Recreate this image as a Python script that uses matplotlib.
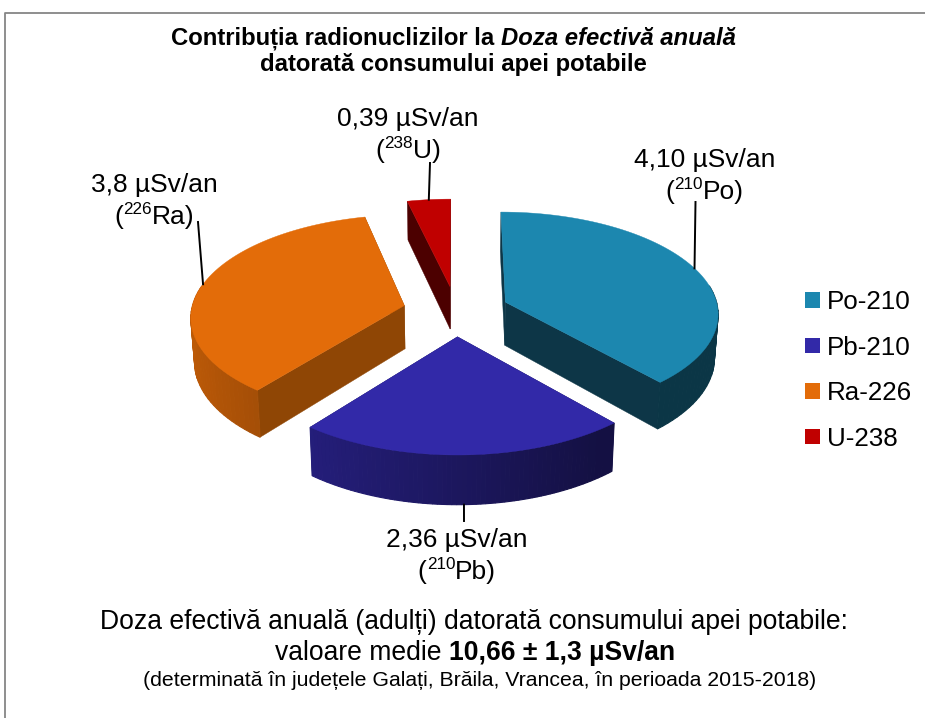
import numpy as np
import matplotlib
matplotlib.use("Agg")
import matplotlib.pyplot as plt
from matplotlib.patches import Patch, Polygon

plt.rcParams['font.family'] = ['Liberation Sans', 'DejaVu Sans']

nuclides = ['Po-210', 'Pb-210', 'Ra-226', 'U-238']
doses = [4.10, 2.36, 3.8, 0.39]
dose_labels = ['4,10 µSv/an', '2,36 µSv/an', '3,8 µSv/an', '0,39 µSv/an']
isotope_mass = ['210', '210', '226', '238']
isotope_sym = ['Po', 'Pb', 'Ra', 'U']

top_colors = ['#1C87AF', '#3229A8', '#E36C09', '#C00000']
cut_colors = ['#0D3647', '#1C1660', '#8F4605', '#4C0000']
label_pos = [(704.5, 167), (457, 547), (154, 192), (408, 126)]
leader_end = [(695.5, 202), (464, 521), (198, 222), (430, 163)]

# pie geometry, all in pixels
cx, cy = 456, 311
R, kR = 213, 100.8
persp = 0.1
explode = 0.25
depth = 43.5


def project(x, y, bottom=False):
    s = 1 / (1 + persp * y)
    px = R * x * s
    py = -kR * y * s
    if bottom:
        return cx + px * 0.986, cy + py + depth * s
    return cx + px, cy + py


def shade(col, f):
    return tuple(c * f for c in matplotlib.colors.to_rgb(col))


def runs(ax, x, y, parts, size):
    # writes pieces of one line next to each other: (text, weight, style, scale, rise)
    rend = ax.figure.canvas.get_renderer()
    items = []
    total = 0
    for text, weight, style, scale, rise in parts:
        t = ax.text(x, y - rise, text, fontsize=size * scale, fontweight=weight, fontstyle=style,
                    ha='left', va='baseline')
        w = t.get_window_extent(rend).width
        items.append((t, w))
        total += w
    pos = x - total / 2
    for t, w in items:
        t.set_x(pos)
        pos += w


fig = plt.figure(figsize=(9.25, 7.18), dpi=100)
ax = fig.add_axes([0, 0, 1, 1])
ax.set_xlim(0, 925)
ax.set_ylim(718, 0)
ax.axis('off')
fig.canvas.draw()

# frame of the chart, open at right and bottom
ax.plot([4.5, 4.5, 925], [718, 12.5, 12.5], color='#868686', lw=1.3, solid_capstyle='butt')

total = sum(doses)
start = 0.0
for i, val in enumerate(doses):
    sweep = val / total * 2 * np.pi
    mid = start + sweep / 2
    ox, oy = explode * np.sin(mid), explode * np.cos(mid)
    th = np.linspace(start, start + sweep, 70)
    xs = ox + np.sin(th)
    ys = oy + np.cos(th)

    top = [project(x, y) for x, y in zip(xs, ys)]
    bot = [project(x, y, True) for x, y in zip(xs, ys)]
    apex_t = project(ox, oy)
    apex_b = project(ox, oy, True)

    # the two cut faces
    for t, b in [(top[0], bot[0]), (top[-1], bot[-1])]:
        ax.add_patch(Polygon([apex_t, t, b, apex_b], closed=True, fc=cut_colors[i], ec=cut_colors[i], lw=0.3))

    # rim, brighter towards the left, only the part facing us
    for j in range(len(th) - 1):
        if np.cos(th[j]) > 0.2:
            continue
        f = np.clip(0.56 - 0.27 * np.sin(th[j]), 0.4, 0.85)
        c = shade(top_colors[i], f)
        ax.add_patch(Polygon([top[j], top[j + 1], bot[j + 1], bot[j]], closed=True, fc=c, ec=c, lw=0.8))

    ax.add_patch(Polygon([apex_t] + top, closed=True, fc=top_colors[i], ec=top_colors[i], lw=0.3))

    # leader from the middle of the rim to its label
    xm, ym = ox + np.sin(mid), oy + np.cos(mid)
    p = project(xm, ym, bottom=np.cos(mid) < -0.5)
    ax.plot([p[0], leader_end[i][0]], [p[1], leader_end[i][1]], color='black', lw=1.4, zorder=5)

    lx, ly = label_pos[i]
    ax.text(lx, ly, dose_labels[i], fontsize=19, ha='center', va='baseline')
    runs(ax, lx, ly + 32, [('(', 'normal', 'normal', 1, 0), (isotope_mass[i], 'normal', 'normal', 0.65, 10),
                           (isotope_sym[i] + ')', 'normal', 'normal', 1, 0)], 19)
    start += sweep

handles = [Patch(fc=c, ec='none') for c in top_colors]
ax.legend(handles, nuclides, loc='center left', bbox_to_anchor=(782 / 925, 1 - 370.5 / 718), frameon=False,
          fontsize=18.7, labelspacing=0.83, handlelength=0.55, handleheight=0.55, handletextpad=0.27)

# title
runs(ax, 453.5, 45, [('Contribuția radionuclizilor la ', 'bold', 'normal', 1, 0),
                     ('Doza efectivă anuală', 'bold', 'italic', 1, 0)], 17.2)
runs(ax, 453.5, 71, [('datorată consumului apei potabile', 'bold', 'normal', 1, 0)], 17.2)

# note under the pie
runs(ax, 473.5, 629, [('Doza efectivă anuală (adulți) datorată consumului apei potabile:', 'normal', 'normal', 1, 0)], 19.1)
runs(ax, 475, 660, [('valoare medie ', 'normal', 'normal', 1, 0), ('10,66 ± 1,3 µSv/an', 'bold', 'normal', 1, 0)], 19.1)
runs(ax, 479.5, 686.5, [('(determinată în județele Galați, Brăila, Vrancea, în perioada 2015-2018)', 'normal', 'normal', 1, 0)], 15.3)

fig.savefig('out.png', dpi=100)
